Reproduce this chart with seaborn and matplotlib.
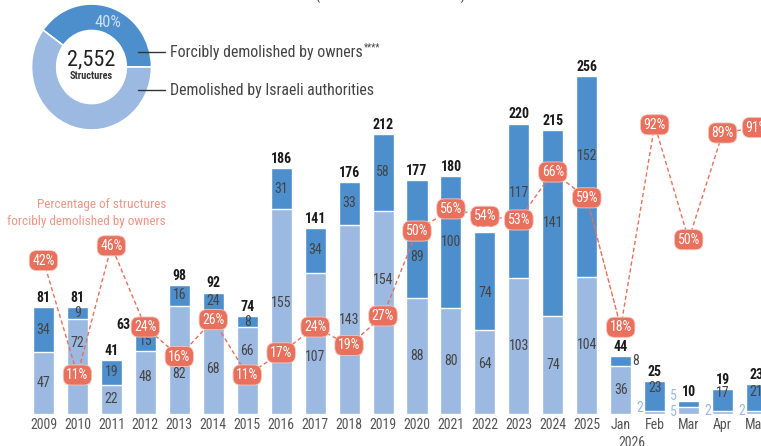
import numpy as np
import pandas as pd
import matplotlib.pyplot as plt
import seaborn as sns
from matplotlib.lines import Line2D
from matplotlib.patches import ConnectionPatch
from matplotlib import transforms, font_manager

# data
years = ["2009", "2010", "2011", "2012", "2013", "2014", "2015", "2016", "2017",
         "2018", "2019", "2020", "2021", "2022", "2023", "2024", "2025"]
months_2026 = ["Jan", "Feb", "Mar", "Apr", "May"]
by_authorities = [47, 72, 22, 48, 82, 68, 66, 155, 107, 143, 154, 88, 80, 64, 103, 74, 104,
                  36, 2, 5, 2, 2]
by_owners = [34, 9, 19, 15, 16, 24, 8, 31, 34, 33, 58, 89, 100, 74, 117, 141, 152,
             8, 23, 5, 17, 21]
pct_years = [42, 11, 46, 24, 16, 26, 11, 17, 24, 19, 27, 50, 56, 54, 53, 66, 59]
pct_months = [18, 92, 50, 89, 91]
donut_values = [40, 60]
donut_total = "2,552"

DARK = "#4d8fcd"
LIGHT = "#9bb9e1"
SALMON = "#e8705c"
SALMON_TXT = "#f29584"
GREY = "#444444"

periods = years + months_2026
df = pd.DataFrame({"period": periods, "authorities": by_authorities, "owners": by_owners})
df["total"] = df["authorities"] + df["owners"]

sns.set_style("white")
# the reference uses a condensed face; use one if present, else shrink Roboto a bit
installed = {f.name for f in font_manager.fontManager.ttflist}
FONT, K = "Roboto", 0.88
for cand in ("Roboto Condensed", "Liberation Sans Narrow", "Open Sans Condensed"):
    if cand in installed:
        FONT, K = cand, 1.0
        break
plt.rcParams["font.family"] = [FONT, "Roboto", "DejaVu Sans"]

W, H = 761, 446
fig = plt.figure(figsize=(W / 100, H / 100), dpi=100)
ax = fig.add_axes([0, 32 / H, 1, 414 / H])

# stacked bars: total in dark, authorities part painted over in light
sns.barplot(data=df, x="period", y="total", color=DARK, saturation=1, width=0.62,
            errorbar=None, ax=ax)
sns.barplot(data=df, x="period", y="authorities", color=LIGHT, saturation=1, width=0.62,
            errorbar=None, ax=ax)

# segment labels moved off-centre to dodge the percentage bubbles (pixels, + is up)
nudge = {("2010", "authorities"): 23, ("2012", "authorities"): 5,
         ("2013", "authorities"): -14, ("2014", "owners"): 7,
         ("2015", "authorities"): 19, ("2016", "authorities"): 9,
         ("2017", "authorities"): -14, ("2019", "authorities"): 32,
         ("2020", "owners"): -18, ("2022", "authorities"): 8, ("2022", "owners"): -12,
         ("2023", "owners"): 8, ("2025", "owners"): 20, ("Feb", "owners"): 8,
         ("Apr", "owners"): 7, ("May", "owners"): 5,
         ("Feb", "authorities"): 5, ("Mar", "authorities"): -1, ("Mar", "owners"): 8,
         ("Apr", "authorities"): 2, ("May", "authorities"): 2}
# tiny segments labelled beside the bar
beside = {("Jan", "owners"): "right", ("Feb", "authorities"): "left",
          ("Mar", "authorities"): "left", ("Mar", "owners"): "left",
          ("Apr", "authorities"): "left", ("May", "authorities"): "left"}

fs = 10 * K
for i, row in df.iterrows():
    for seg, base in (("authorities", 0), ("owners", row["authorities"])):
        v = row[seg]
        key = (row["period"], seg)
        dy = nudge.get(key, 0) * 0.72
        side = beside.get(key)
        if side is None:
            ax.annotate(str(v), (i, base + v / 2), xytext=(0, dy), textcoords="offset points",
                        ha="center", va="center", color=GREY, fontsize=fs)
        elif side == "left":
            ax.annotate(str(v), (i - 0.31, base + v / 2), xytext=(-1, dy),
                        textcoords="offset points", ha="right", va="center",
                        color=LIGHT, fontsize=fs)
        else:
            ax.annotate(str(v), (i + 0.31, base + v / 2), xytext=(1, dy),
                        textcoords="offset points", ha="left", va="center",
                        color=GREY, fontsize=fs)
    if row["period"] == "2012":
        ax.annotate(str(row["total"]), (i - 0.31, row["total"]), xytext=(-3, 4),
                    textcoords="offset points", ha="right", va="center",
                    fontsize=fs, weight="bold", color="#1a1a1a")
    else:
        ax.annotate(str(row["total"]), (i, row["total"]), xytext=(0, 1.5),
                    textcoords="offset points", ha="center", va="bottom",
                    fontsize=fs, weight="bold", color="#1a1a1a")

ax.set_ylim(0, 313.6)
ax.set(xlabel="", ylabel="", yticks=[])
sns.despine(ax=ax, left=True, bottom=True)
ax.tick_params(axis="x", length=0, pad=3, labelsize=10 * K, labelcolor="#555555")

# percentage line: yearly and monthly parts each on their own hidden scale
bubble = dict(boxstyle="round,pad=0.22,rounding_size=0.55", fc=SALMON, ec="#f6c6bb", lw=0.6)
dash = (0, (3, 2))


def pct_axis(xs, vals, ylim):
    tw = ax.twinx()
    sns.lineplot(x=xs, y=vals, ax=tw, color=SALMON, linewidth=1, linestyle=dash)
    for x, p in zip(xs, vals):
        tw.text(x, p, f"{p}%", ha="center", va="center", color="white", fontsize=10 * K,
                bbox=bubble, zorder=4)
    tw.set_ylim(*ylim)
    tw.set_yticks([])
    tw.set_ylabel("")
    for s in tw.spines.values():
        s.set_visible(False)
    return tw


n_years = len(years)
ax_y = pct_axis(np.arange(n_years), pct_years, (0.43, 112.6))
ax_m = pct_axis(np.arange(n_years, len(periods)), pct_months, (-13.7, 137.6))
ax_y.add_artist(ConnectionPatch(xyA=(n_years - 1, pct_years[-1]), coordsA=ax_y.transData,
                                xyB=(n_years, pct_months[0]), coordsB=ax_m.transData,
                                color=SALMON, lw=1, linestyle=dash, zorder=1))
ax.set_xlim(-1.28, 21.13)

fig.text(166 / W, 1 - 213 / H, "Percentage of structures\nforcibly demolished by owners",
         ha="right", va="center", multialignment="right", fontsize=9.5 * K,
         color=SALMON_TXT, linespacing=1.35)

blend = transforms.blended_transform_factory(ax.transData, fig.transFigure)
ax.text(17.33, 1 - 443 / H, "2026", transform=blend, ha="center", va="center",
        fontsize=10 * K, color="#555555")

# donut (slightly taller than wide, as in the reference)
dax = fig.add_axes([31.5 / W, (H - 130) / H, 120 / W, 126 / H])
dax.pie(donut_values, colors=[DARK, LIGHT], startangle=0, counterclock=True,
        wedgeprops=dict(width=0.42, edgecolor="white", linewidth=1.2))
dax.set_aspect("auto")
dax.set_xlim(-1, 1)
dax.set_ylim(-1, 1)
dax.text(0.28, 0.71, "40%", ha="center", va="center", fontsize=12 * K, color="#cde0f3")
dax.text(0, 0.11, donut_total, ha="center", va="center", fontsize=16 * K, color="#222222")
dax.text(0, -0.15, "Structures", ha="center", va="center", fontsize=7.5 * K, weight="bold",
         color="#333333")

for ypix, label in ((52, "Forcibly demolished by owners"),
                    (90, "Demolished by Israeli authorities")):
    fig.add_artist(Line2D([138 / W, 165 / W], [1 - ypix / H] * 2, transform=fig.transFigure,
                          color="#333333", lw=1))
    t = fig.text(170 / W, 1 - ypix / H, label, ha="left", va="center", fontsize=11.4 * K,
                 color="#444444")
    if "owners" in label:
        ax.annotate("****", xy=(1, 0.8), xycoords=t, xytext=(0.5, 0),
                    textcoords="offset points", ha="left", va="center",
                    fontsize=7 * K, color="#444444", annotation_clip=False)

fig.text(391 / W, 1 + 4 / H, "(included in the other charts)", ha="center", va="center",
         fontsize=9.4 * K, color="#333333")

fig.savefig("out.png", dpi=100)
